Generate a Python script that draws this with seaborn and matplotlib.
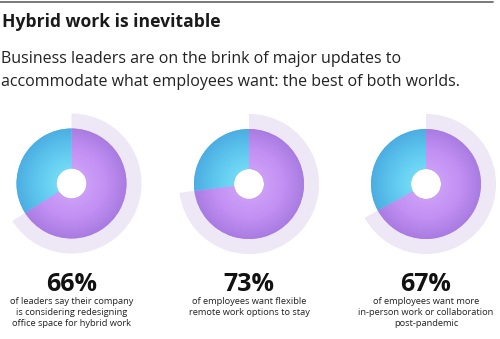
import matplotlib
matplotlib.use("Agg")
import matplotlib.pyplot as plt
from matplotlib.colors import LinearSegmentedColormap
import seaborn as sns
import numpy as np

sns.set_theme(style="white")
plt.rcParams['font.family'] = ['Open Sans', 'DejaVu Sans']

title = "Hybrid work is inevitable"
subtitle = ["Business leaders are on the brink of major updates to",
            "accommodate what employees want: the best of both worlds."]
percents = [66, 73, 67]
descriptions = [
    "of leaders say their company\nis considering redesigning\noffice space for hybrid work",
    "of employees want flexible\nremote work options to stay",
    "of employees want more\nin-person work or collaboration\npost-pandemic",
]

W, H = 500, 339
fig = plt.figure(figsize=(W / 100, H / 100), dpi=100)
fig.patch.set_facecolor("white")

# top rule
fig.add_artist(plt.Line2D([0, 493 / W], [1 - 1.5 / H, 1 - 1.5 / H], color="#6e6e6e", lw=1.3))

fig.text(2 / W, 1 - 22 / H, title, fontsize=12.6, fontweight="bold", color="#1a1a1a", va="center", ha="left")
for i, line in enumerate(subtitle):
    fig.text(1 / W, 1 - (59 + 23.5 * i) / H, line, fontsize=11.5, color="#222222", va="center", ha="left")

centers = [(71.5, 183.5), (249, 184), (426, 184)]
purple_cmap = LinearSegmentedColormap.from_list("pu", ["#CC9FF7", "#C28FF3", "#A97CE1"])
blue_cmap = LinearSegmentedColormap.from_list("bl", ["#72DAF5", "#5EC6EE", "#4CADE2"])
ring = "#EDE7F6"
S = 160
yy, xx = np.mgrid[-S / 2:S / 2:320j, -S / 2:S / 2:320j]
rr = np.clip((np.hypot(xx, yy) - 15) / 40, 0, 1)
for p, (cx, cy), desc in zip(percents, centers, descriptions):
    ax = fig.add_axes([(cx - S / 2) / W, 1 - (cy + S / 2) / H, S / W, S / H])
    ax.pie([p, 100 - p], radius=70, startangle=90, counterclock=False,
           colors=[ring, "none"], wedgeprops=dict(width=15, linewidth=0))
    wedges, _ = ax.pie([p, 100 - p], radius=55, startangle=90, counterclock=False,
                       colors=["#BE8DF0", "#5EC4EC"], wedgeprops=dict(width=40, linewidth=0))
    for w, cmap in zip(wedges, [purple_cmap, blue_cmap]):
        im = ax.imshow(rr, cmap=cmap, extent=[-S / 2, S / 2, -S / 2, S / 2], origin="lower",
                       vmin=0, vmax=1, interpolation="bilinear", zorder=w.get_zorder() + 0.1)
        im.set_clip_path(w)
    ax.set_xlim(-S / 2, S / 2)
    ax.set_ylim(-S / 2, S / 2)
    ax.set_aspect("equal")
    ax.axis("off")
    fig.text(cx / W, 1 - 284.5 / H, f"{p}%", fontsize=18, fontweight="bold", color="#111111",
             ha="center", va="center")
    fig.text(cx / W, 1 - 297 / H, desc, fontsize=6.7, color="#222222", ha="center", va="top",
             linespacing=1.3)

fig.savefig("out.png", dpi=100)
